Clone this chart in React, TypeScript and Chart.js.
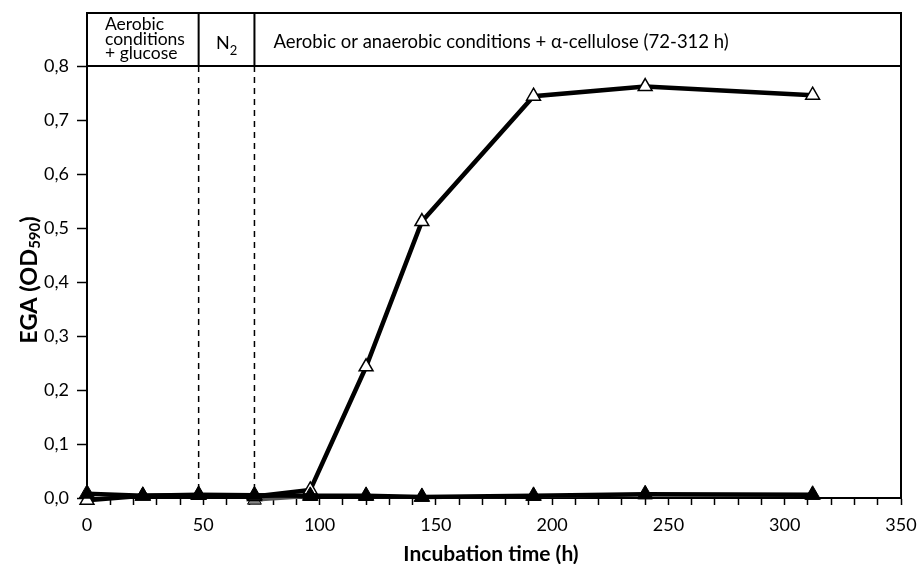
import React, { useEffect, useRef } from "react";
import { Chart, registerables } from "chart.js";
Chart.register(...registerables);

const hours = [0, 24, 48, 72, 96, 120, 144, 192, 240, 312];
const openValues = [-0.004, 0.004, 0.005, 0.003, 0.015, 0.243, 0.512, 0.744, 0.762, 0.746];
const blackValues = [0.008, 0.004, 0.006, 0.005, 0.004, 0.004, 0.002, 0.004, 0.007, 0.006];
const grayHours = [72, 96, 120, 144, 192, 240, 312];
const grayValues = [-0.004, 0.003, 0.003, 0.002, 0.003, 0.006, 0.005];

const phaseBounds = [48, 72];
const phase1Lines = ["Aerobic", "conditions", "+ glucose"];
const phase2Main = "N";
const phase2Sub = "2";
const phase3Label = "Aerobic or anaerobic conditions + \u03b1-cellulose (72-312 h)";
const xTitle = "Incubation time (h)";
const yTitleMain = "EGA (OD";
const yTitleSub = "590";
const yTitleEnd = ")";

const FONT = "Lato, 'Open Sans', sans-serif";

const overlay = {
  id: "overlay",
  afterDraw(chart: any) {
    const ctx = chart.ctx;
    const { left, right, top, bottom } = chart.chartArea;
    const xs = chart.scales.x;
    const boxTop = 13;
    ctx.save();
    ctx.strokeStyle = "#000";
    ctx.lineWidth = 2;
    ctx.setLineDash([]);
    ctx.strokeRect(left, boxTop, right - left, top - boxTop);
    ctx.beginPath();
    ctx.moveTo(right, top);
    ctx.lineTo(right, bottom);
    ctx.stroke();
    const px = phaseBounds.map((h) => xs.getPixelForValue(h));
    ctx.beginPath();
    px.forEach((p) => {
      ctx.moveTo(p, boxTop);
      ctx.lineTo(p, top);
    });
    ctx.stroke();
    ctx.lineWidth = 1.5;
    ctx.setLineDash([6, 5]);
    ctx.beginPath();
    px.forEach((p) => {
      ctx.moveTo(p, top);
      ctx.lineTo(p, bottom);
    });
    ctx.stroke();
    ctx.setLineDash([]);

    ctx.fillStyle = "#000";
    ctx.textBaseline = "alphabetic";
    ctx.textAlign = "left";
    ctx.font = `17.5px ${FONT}`;
    phase1Lines.forEach((t, i) => ctx.fillText(t, left + 18, boxTop + 17 + i * 14.5));

    ctx.font = `18px ${FONT}`;
    const nW = ctx.measureText(phase2Main).width;
    ctx.font = `13px ${FONT}`;
    const sW = ctx.measureText(phase2Sub).width;
    const c2 = (px[0] + px[1]) / 2;
    const nx = c2 - (nW + sW) / 2;
    ctx.font = `18px ${FONT}`;
    ctx.fillText(phase2Main, nx, boxTop + 36);
    ctx.font = `13px ${FONT}`;
    ctx.fillText(phase2Sub, nx + nW, boxTop + 42);

    ctx.font = `18.5px ${FONT}`;
    ctx.fillText(phase3Label, px[1] + 19, boxTop + 35);

    // x title
    ctx.textBaseline = "middle";
    ctx.font = `bold 21px ${FONT}`;
    ctx.textAlign = "center";
    ctx.fillText(xTitle, (left + right) / 2 - 3, 554);

    // y title
    ctx.save();
    ctx.translate(29, 280);
    ctx.rotate(-Math.PI / 2);
    ctx.font = `bold 23.5px ${FONT}`;
    const w1 = ctx.measureText(yTitleMain).width;
    const w3 = ctx.measureText(yTitleEnd).width;
    ctx.font = `bold 15px ${FONT}`;
    const w2 = ctx.measureText(yTitleSub).width;
    let x0 = -(w1 + w2 + w3) / 2;
    ctx.textAlign = "left";
    ctx.font = `bold 23.5px ${FONT}`;
    ctx.fillText(yTitleMain, x0, 0);
    ctx.font = `bold 15px ${FONT}`;
    ctx.fillText(yTitleSub, x0 + w1, 6);
    ctx.font = `bold 23.5px ${FONT}`;
    ctx.fillText(yTitleEnd, x0 + w1 + w2, 0);
    ctx.restore();

    ctx.restore();
  },
};

export default function App() {
  const ref = useRef<HTMLCanvasElement | null>(null);
  useEffect(() => {
    if (!ref.current) return;
    const pts = (xsArr: number[], ys: number[]) => xsArr.map((x, i) => ({ x, y: ys[i] }));
    const chart = new Chart(ref.current, {
      type: "line",
      data: {
        datasets: [
          {
            label: "anaerobic",
            data: pts(hours, blackValues),
            borderColor: "#000",
            borderWidth: 4.5,
            pointStyle: "triangle",
            pointRadius: 9,
            pointBackgroundColor: "#000",
            pointBorderColor: "#000",
            pointBorderWidth: 1,
            clip: false,
            order: 0,
          },
          {
            label: "aerobic",
            data: pts(hours, openValues),
            borderColor: "#000",
            borderWidth: 4.5,
            pointStyle: "triangle",
            pointRadius: 8,
            pointBackgroundColor: "#fff",
            pointBorderColor: "#000",
            pointBorderWidth: 1.5,
            clip: false,
            order: 1,
          },
          {
            label: "control",
            data: pts(grayHours, grayValues),
            borderColor: "#555",
            borderWidth: 3,
            pointStyle: "triangle",
            pointRadius: 8,
            pointBackgroundColor: "#888",
            pointBorderColor: "#000",
            pointBorderWidth: 1,
            clip: false,
            order: 2,
          },
        ],
      } as any,
      options: {
        animation: false,
        responsive: false,
        maintainAspectRatio: false,
        layout: { padding: { left: 0, top: 66, right: 16, bottom: 0 } },
        plugins: { legend: { display: false }, tooltip: { enabled: false } },
        scales: {
          x: {
            type: "linear",
            min: 0,
            max: 350,
            afterFit: (s: any) => {
              s.height = 66;
              s.paddingLeft = 0;
              s.paddingRight = 0;
            },
            grid: { drawOnChartArea: false, tickLength: 7, tickWidth: 1.5, tickColor: "#000" },
            border: { color: "#000", width: 2 },
            ticks: {
              stepSize: 10,
              autoSkip: false,
              maxRotation: 0,
              padding: 9,
              color: "#000",
              font: { family: FONT, size: 18 },
              callback: (v: any) => (Number(v) % 50 === 0 ? String(v) : ""),
            },
          },
          y: {
            min: 0,
            max: 0.8,
            afterFit: (s: any) => {
              s.width = 87;
              s.paddingTop = 0;
              s.paddingBottom = 0;
            },
            grid: { drawOnChartArea: false, tickLength: 10, tickWidth: 1.5, tickColor: "#000" },
            border: { color: "#000", width: 2 },
            ticks: {
              stepSize: 0.1,
              padding: 8,
              color: "#000",
              font: { family: FONT, size: 18 },
              callback: (v: any) => Number(v).toFixed(1).replace(".", ","),
            },
          },
        },
      } as any,
      plugins: [overlay],
    });
    return () => chart.destroy();
  }, []);
  return (
    <div style={{ position: "fixed", left: 0, top: 0, width: 917, height: 564, background: "#fff" }}>
      <canvas ref={ref} width={917} height={564} style={{ width: 917, height: 564 }} />
    </div>
  );
}
